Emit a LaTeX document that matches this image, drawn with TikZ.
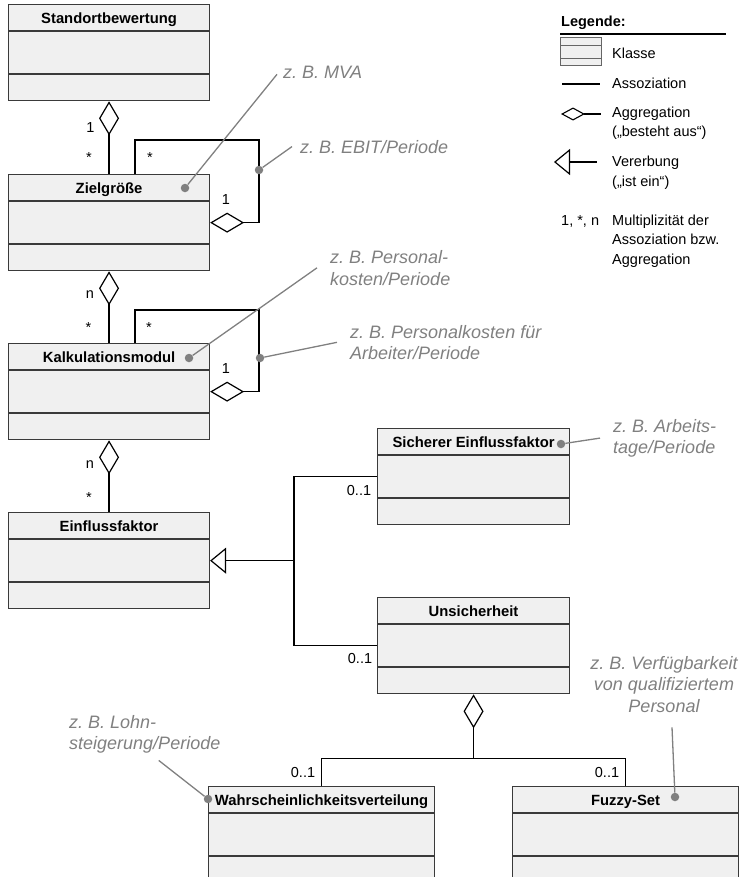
\documentclass[tikz,border=0pt]{standalone}
\usepackage{fontspec}
\setmainfont{Liberation Sans}
\usetikzlibrary{positioning,arrows.meta}
\definecolor{NoteGray}{HTML}{808080}
\definecolor{BoxFill}{HTML}{F0F0F0}
\definecolor{BoxLine}{HTML}{3A3A3A}
\frenchspacing

\begin{document}
\begin{tikzpicture}[x=1bp,y=-1bp,
 cls/.style={draw=BoxLine,fill=BoxFill,line width=1.1bp,inner sep=0pt,minimum height=26bp},
 clshead/.style={cls,font=\fontsize{14.8bp}{17bp}\selectfont\bfseries,text height=12bp,text depth=0pt},
 clsbody/.style={cls,minimum height=42bp},
 mult/.style={font=\fontsize{14.5bp}{17bp}\selectfont,inner sep=0pt,anchor=base},
 legtext/.style={font=\fontsize{14.5bp}{19.5bp}\selectfont,inner sep=0pt,anchor=base west,align=left},
 note/.style={font=\fontsize{18bp}{21.5bp}\selectfont\itshape,text=NoteGray,inner sep=0pt,align=left,anchor=base west},
 notedot/.style={circle,fill=NoteGray,inner sep=0pt,minimum size=8.5bp},
 noteline/.style={NoteGray,line width=1.3bp},
 assoc/.style={line width=1.3bp},
 aggr/.style={assoc,{Diamond[open,length=34bp,width=20bp,line width=1.2bp]}-},
 aggrend/.style={assoc,-{Diamond[open,length=34bp,width=20bp,line width=1.2bp]}},
 inherit/.style={assoc,{Triangle[open,length=16bp,width=26bp,line width=1.2bp]}-}]
\path[use as bounding box] (0,0) rectangle (744,877);
\clip (0,0) rectangle (744,877);

% classes: name / left / top / width / title
\foreach \n/\x/\y/\w/\t in {
  sb/8/4/201/Standortbewertung,
  zg/8/174/201/Zielgröße,
  km/8/343/201/Kalkulationsmodul,
  ef/8/512/201/Einflussfaktor,
  sef/377/428/192/Sicherer Einflussfaktor,
  us/377/597/192/Unsicherheit,
  wv/208/786/226/Wahrscheinlichkeitsverteilung,
  fs/512/786/226/Fuzzy-Set} {
  \node[clshead,minimum width=\w bp,anchor=north west] (\n) at (\x,\y) {\t};
  \node[clsbody,minimum width=\w bp,below=0pt of \n] (\n-a) {};
  \node[cls,minimum width=\w bp,below=0pt of \n-a] (\n-o) {};
}

% aggregations
\draw[aggr,line width=2.2bp] (sb-o.south) -- (zg.north);
\draw[aggr,line width=2.2bp] (zg-o.south) -- (km.north);
\draw[aggr,line width=2.2bp] (km-o.south) -- (ef.north);
\draw[aggrend] ([xshift=127bp]zg.north west) |- ++(124,-34) |- (zg-a.east);
\draw[aggrend] ([xshift=127bp]km.north west) |- ++(124,-33) |- (km-a.east);
\draw[aggr] (us-o.south) -- ++(0,64) coordinate (split);
\draw[assoc] (wv.north) |- (split) -| (fs.north);

% generalisation
\draw[inherit] (ef-a.east) -- ++(84,0) coordinate (fork);
\draw[assoc] (sef-a.west) -| (fork) |- (us-a.west);

% multiplicities
\foreach \x/\y/\m [count=\i] in {90.5/132/1, 89/162/*, 150/162/*, 226/204/1,
  90/298/n, 88.5/332/*, 149/332/*, 226/373/1, 90/468/n, 89/502/*,
  359/495/0..1, 360/663/0..1, 303/777/0..1, 607/777/0..1}
  \node[mult] (mult-\i) at (\x,\y) {\m};

% examples (base = last line)
\node[note] (n-mva) at (283,78) {z. B. MVA};
\node[note] (n-ebit) at (300,153) {z. B. EBIT/Periode};
\node[note] (n-pk) at (330,285) {z. B. Personal-\\kosten/Periode};
\node[note] (n-pka) at (350,359.5) {z. B. Personalkosten für\\Arbeiter/Periode};
\node[note] (n-at) at (613,453.5) {z. B. Arbeits-\\tage/Periode};
\node[note] (n-lohn) at (69,749.5) {z. B. Lohn-\\steigerung/Periode};
\node[note,align=center,anchor=base] (n-vq) at (664,712) {z. B. Verfügbarkeit\\von qualifiziertem\\Personal};

\node[notedot] (d-mva) at (185,188) {};
\node[notedot] (d-ebit) at (259,170) {};
\node[notedot] (d-pk) at (189,358) {};
\node[notedot] (d-pka) at (260,358) {};
\node[notedot] (d-at) at (561,444) {};
\node[notedot] (d-lohn) at (208,799) {};
\node[notedot] (d-vq) at (675,797) {};

\draw[noteline] (d-mva) -- ([shift={(-6,2.5)}]n-mva.west);
\draw[noteline] (d-ebit) -- ([xshift=-8bp]n-ebit.west);
\draw[noteline] (d-pk) -- ([xshift=-13bp]n-pk.west);
\draw[noteline] (d-pka) -- ([xshift=-13bp]n-pka.west);
\draw[noteline] (d-at) -- ([xshift=-13bp]n-at.west);
\draw[noteline] (d-lohn) -- ([shift={(14,7)}]n-lohn.south);
\draw[noteline] (d-vq) -- ([shift={(8,15)}]n-vq.south);

% legend
\node[legtext,font=\fontsize{14.5bp}{19.5bp}\selectfont\bfseries] (leg) at (561,26) {Legende:};
\draw[line width=2bp] (560,34) -- (726,34);
\draw[draw=black!60,fill=BoxFill,line width=1bp] (560,37) rectangle (601,65);
\draw[black!60,line width=1bp] (560,45) -- (601,45) (560,58) -- (601,58);
\node[legtext] (l-kl) at (612,58) {Klasse};
\draw[assoc] (562,84) -- (600,84);
\node[legtext] (l-as) at (612,88) {Assoziation};
\draw[assoc,{Diamond[open,length=24bp,width=13bp,line width=1.1bp]}-] (561,114) -- (601,114);
\node[legtext] (l-ag) at (612,136.5) {Aggregation\\(„besteht aus“)};
\draw[inherit] (554,162) -- (597,162);
\node[legtext] (l-ve) at (612,186) {Vererbung\\(„ist ein“)};
\node[legtext] (l-mu) at (561,225) {1, *, n};
\node[legtext] (l-mt) at (612,264) {Multiplizität der\\Assoziation bzw.\\Aggregation};
\end{tikzpicture}
\end{document}
